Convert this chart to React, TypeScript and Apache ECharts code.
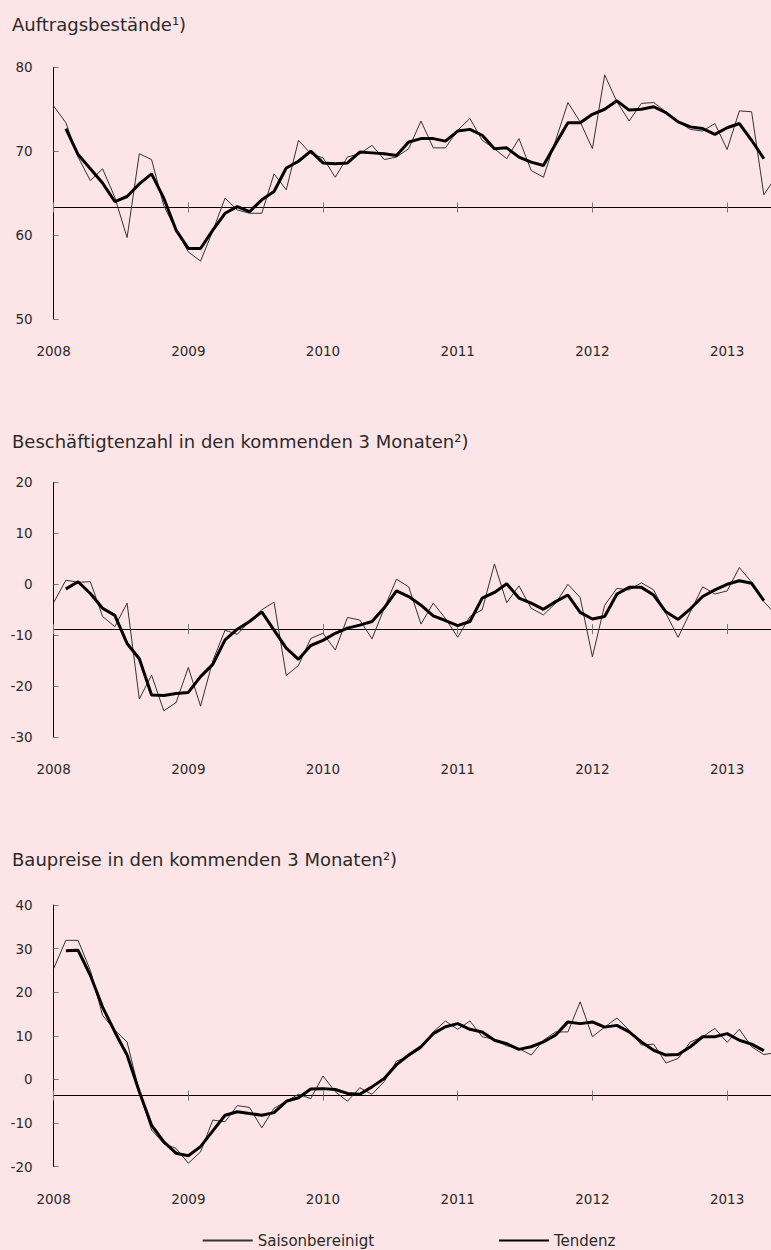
import React, { useEffect, useRef } from "react";
import * as echarts from "echarts";

// ---- data ----
const YEARS = [2008, 2009, 2010, 2011, 2012, 2013];
// 11 survey months per year (no August survey)
const MONTHS = ["01", "02", "03", "04", "05", "06", "07", "09", "10", "11", "12"];
const CATEGORIES = YEARS.flatMap((y) => MONTHS.map((m) => `${y}-${m}`)).slice(0, 60);

const TITLES = [
  "Auftragsbest\u00e4nde\u00b9)",
  "Besch\u00e4ftigtenzahl in den kommenden 3 Monaten\u00b2)",
  "Baupreise in den kommenden 3 Monaten\u00b2)",
];
const SERIES_NAMES = ["Saisonbereinigt", "Tendenz"];

const Y_MIN = [50, -30, -20];
const Y_MAX = [80, 20, 40];
const REFERENCE = [63.3, -8.8, -3.7];

const SAISON_AUFTRAG = [
  75.4, 73.4, 69.3, 66.5, 67.9, 64.5, 59.7, 69.7, 69.0, 63.5,
  60.6, 58.0, 56.9, 60.5, 64.4, 63.0, 62.6, 62.6, 67.3, 65.4,
  71.3, 69.7, 69.2, 66.9, 69.3, 69.7, 70.7, 69.0, 69.3, 70.3,
  73.6, 70.4, 70.4, 72.5, 73.9, 71.3, 70.3, 69.1, 71.5, 67.7,
  66.9, 71.3, 75.8, 73.5, 70.3, 79.1, 75.9, 73.6, 75.7, 75.8,
  74.7, 73.5, 72.6, 72.4, 73.3, 70.2, 74.8, 74.7, 64.8, 67.0,
];
const TENDENZ_AUFTRAG = [
  null,
  72.7, 69.6, 67.9, 66.2, 64.0, 64.6, 66.1, 67.3, 64.4, 60.6,
  58.4, 58.4, 60.6, 62.6, 63.4, 62.8, 64.2, 65.2, 68.0, 68.8,
  70.0, 68.6, 68.5, 68.6, 69.9, 69.8, 69.7, 69.5, 71.1, 71.5,
  71.5, 71.2, 72.4, 72.6, 71.9, 70.3, 70.4, 69.3, 68.7, 68.3,
  70.9, 73.4, 73.4, 74.4, 75.0, 76.0, 74.9, 75.0, 75.3, 74.6,
  73.5, 72.9, 72.7, 72.0, 72.8, 73.3, 71.3, 69.1,
  null,
];

const SAISON_BESCH = [
  -3.6, 0.8, 0.4, 0.5, -6.3, -8.3, -3.7, -22.5, -17.8, -24.8,
  -23.2, -16.3, -23.9, -15.0, -9.0, -9.8, -7.3, -5.0, -3.5, -17.9,
  -15.9, -10.6, -9.6, -12.9, -6.5, -7.0, -10.7, -4.7, 1.0, -0.5,
  -7.8, -3.7, -6.7, -10.4, -6.3, -5.0, 4.0, -3.6, -0.3, -4.7,
  -6.0, -3.7, 0.0, -2.6, -14.2, -4.1, -0.8, -1.1, 0.3, -1.1,
  -5.7, -10.4, -5.4, -0.5, -1.9, -1.3, 3.3, 0.4, -3.4, -6.0,
];
const TENDENZ_BESCH = [
  null,
  -0.9, 0.5, -1.8, -4.7, -6.1, -11.6, -14.6, -21.7, -21.8, -21.4,
  -21.2, -18.1, -15.7, -10.9, -8.8, -7.3, -5.4, -9.0, -12.5, -14.7,
  -12.0, -11.0, -9.6, -8.6, -8.0, -7.3, -4.6, -1.3, -2.4, -4.1,
  -6.2, -7.1, -8.1, -7.3, -2.7, -1.6, 0.1, -2.7, -3.7, -4.9,
  -3.4, -2.1, -5.5, -6.8, -6.3, -1.9, -0.6, -0.6, -2.1, -5.4,
  -6.9, -4.8, -2.4, -1.1, 0.0, 0.7, 0.2, -3.2,
  null,
];

const SAISON_PREISE = [
  25.4, 31.9, 31.9, 25.0, 14.7, 11.3, 8.6, -2.8, -11.6, -14.7,
  -15.8, -19.2, -16.6, -9.3, -9.7, -6.0, -6.4, -11.1, -6.6, -5.0,
  -3.4, -4.4, 0.8, -2.8, -5.0, -1.9, -3.4, -0.5, 4.2, 5.3,
  7.1, 10.9, 13.4, 11.5, 13.4, 9.8, 9.2, 7.7, 7.1, 5.6,
  9.0, 10.9, 10.9, 17.8, 9.8, 12.0, 14.1, 11.3, 7.9, 8.1,
  3.8, 4.8, 8.6, 9.8, 11.7, 8.5, 11.5, 7.5, 5.7, 6.2,
];
const TENDENZ_PREISE = [
  null,
  29.5, 29.6, 23.9, 16.6, 10.9, 5.6, -2.8, -10.5, -14.3, -16.9,
  -17.5, -15.4, -11.8, -8.2, -7.4, -7.8, -8.2, -7.6, -5.0, -4.2,
  -2.2, -2.1, -2.3, -3.2, -3.4, -1.7, 0.2, 3.4, 5.6, 7.5,
  10.5, 12.1, 12.8, 11.5, 10.9, 9.0, 8.2, 6.9, 7.5, 8.6,
  10.2, 13.2, 12.8, 13.2, 12.0, 12.4, 10.9, 8.6, 6.7, 5.6,
  5.7, 7.5, 9.8, 9.8, 10.5, 9.0, 8.1, 6.6,
  null,
];

const SAISON = [SAISON_AUFTRAG, SAISON_BESCH, SAISON_PREISE];
const TENDENZ = [TENDENZ_AUFTRAG, TENDENZ_BESCH, TENDENZ_PREISE];

// ---- layout / style ----
const BG = "#fde5e7";
const TEXT = "#2a2a2a";
const FONT = "'DejaVu Sans', Verdana, sans-serif";
const GRID_LEFT = 53.6;
const GRID_WIDTH = 722.5;
const GRID_TOPS = [67.3, 482.3, 905];
const GRID_HEIGHTS = [251.7, 255, 261.7];
const TITLE_Y = [24.5, 441.5, 859];

const isYearStart = (i: number) => i % MONTHS.length === 0;

function buildOption() {
  const panels = [0, 1, 2];
  const grid = panels.map((g) => ({
    left: GRID_LEFT,
    width: GRID_WIDTH,
    top: GRID_TOPS[g],
    height: GRID_HEIGHTS[g],
    containLabel: false,
    outerBoundsMode: "none",
  }));

  const xAxis = panels.flatMap((g) => [
    {
      type: "category",
      gridIndex: g,
      data: CATEGORIES,
      boundaryGap: false,
      position: "bottom",
      axisLine: { show: true, onZero: true, onZeroAxisIndex: 2 * g + 1, lineStyle: { color: "#000", width: 1 } },
      axisTick: { show: true, interval: isYearStart, length: 5, lineStyle: { color: "#777", width: 1 } },
      axisLabel: { show: false },
      splitLine: { show: false },
    },
    {
      type: "category",
      gridIndex: g,
      data: CATEGORIES,
      boundaryGap: false,
      position: "top",
      axisLine: { show: false, onZero: true, onZeroAxisIndex: 2 * g + 1 },
      axisTick: { show: true, interval: isYearStart, length: 5, lineStyle: { color: "#777", width: 1 } },
      axisLabel: { show: false },
      splitLine: { show: false },
    },
    {
      type: "category",
      gridIndex: g,
      data: CATEGORIES,
      boundaryGap: false,
      position: "bottom",
      axisLine: { show: false, onZero: false },
      axisTick: { show: false },
      axisLabel: {
        show: true,
        interval: isYearStart,
        formatter: (v: string) => v.slice(0, 4),
        margin: 25,
        fontSize: 13.5,
        color: TEXT,
        fontFamily: FONT,
      },
      splitLine: { show: false },
    },
  ]);

  const yAxis = panels.flatMap((g) => [
    {
      type: "value",
      gridIndex: g,
      position: "left",
      min: Y_MIN[g],
      max: Y_MAX[g],
      interval: 10,
      axisLine: { show: true, onZero: false, lineStyle: { color: "#000", width: 1 } },
      axisTick: { show: true, inside: true, length: 5, lineStyle: { color: "#777", width: 1 } },
      axisLabel: { margin: 21, fontSize: 13.5, color: TEXT, fontFamily: FONT },
      splitLine: { show: false },
    },
    {
      type: "value",
      gridIndex: g,
      position: "right",
      show: false,
      min: Y_MIN[g] - REFERENCE[g],
      max: Y_MAX[g] - REFERENCE[g],
      splitLine: { show: false },
    },
  ]);

  const series = panels.flatMap((g) => [
    {
      type: "line",
      name: SERIES_NAMES[0],
      xAxisIndex: 3 * g,
      yAxisIndex: 2 * g,
      data: SAISON[g],
      symbol: "none",
      showSymbol: false,
      lineStyle: { color: "#333", width: 1 },
      itemStyle: { color: "#333" },
      z: 3,
      silent: true,
    },
    {
      type: "line",
      name: SERIES_NAMES[1],
      xAxisIndex: 3 * g,
      yAxisIndex: 2 * g,
      data: TENDENZ[g],
      symbol: "none",
      showSymbol: false,
      lineStyle: { color: "#000", width: 3 },
      itemStyle: { color: "#000" },
      z: 4,
      silent: true,
    },
  ]);

  const legendCommon = {
    top: 1233,
    padding: 0,
    itemWidth: 50,
    itemHeight: 14,
    itemGap: 0,
    selectedMode: false,
    itemStyle: { color: "rgba(0,0,0,0)", borderWidth: 0, opacity: 0 },
    textStyle: { fontSize: 15, color: TEXT, fontFamily: FONT },
  };

  return {
    animation: false,
    backgroundColor: BG,
    grid,
    xAxis,
    yAxis,
    series,
    legend: [
      { ...legendCommon, data: [SERIES_NAMES[0]], left: 201.7 },
      { ...legendCommon, data: [SERIES_NAMES[1]], left: 498 },
    ],
    graphic: TITLES.map((t, g) => ({
      type: "text",
      x: 12,
      y: TITLE_Y[g],
      silent: true,
      style: {
        text: t,
        fontSize: 18,
        fontFamily: FONT,
        fill: TEXT,
        align: "left",
        verticalAlign: "middle",
      },
    })),
  };
}

export default function App() {
  const ref = useRef<HTMLDivElement>(null);
  useEffect(() => {
    document.body.style.margin = "0";
    document.body.style.background = BG;
    if (!ref.current) return;
    const chart = echarts.init(ref.current, undefined, { renderer: "svg" });
    chart.setOption(buildOption() as any);
    return () => chart.dispose();
  }, []);
  return <div ref={ref} style={{ width: 771, height: 1250, background: BG, overflow: "hidden" }} />;
}
